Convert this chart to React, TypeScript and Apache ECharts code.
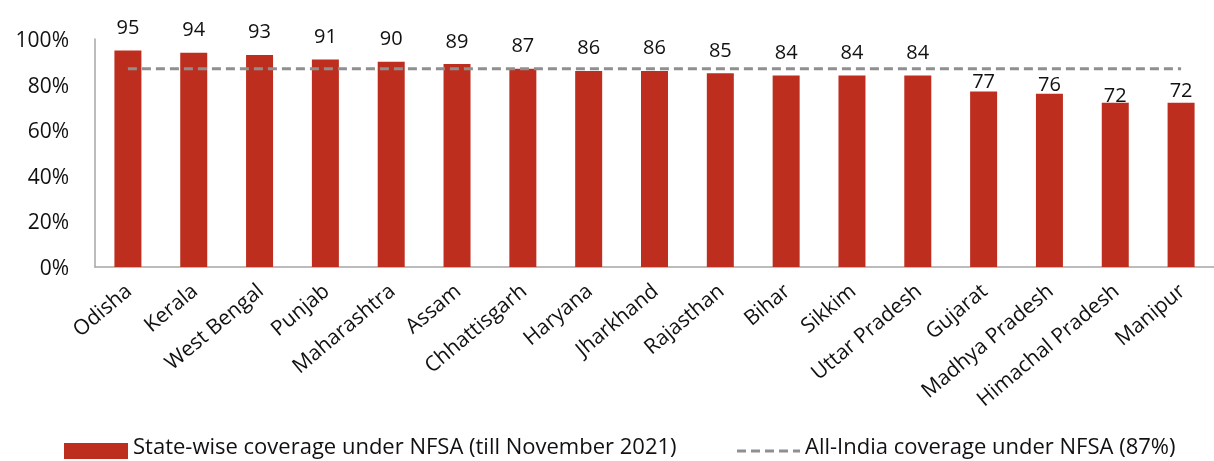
import React, { useEffect, useRef } from "react";
import * as echarts from "echarts";

const states = [
  "Odisha", "Kerala", "West Bengal", "Punjab", "Maharashtra", "Assam", "Chhattisgarh",
  "Haryana", "Jharkhand", "Rajasthan", "Bihar", "Sikkim", "Uttar Pradesh", "Gujarat",
  "Madhya Pradesh", "Himachal Pradesh", "Manipur",
];
const coverage = [95, 94, 93, 91, 90, 89, 87, 86, 86, 85, 84, 84, 84, 77, 76, 72, 72];
const allIndia = 87;
const yTicks = [0, 20, 40, 60, 80, 100];
// label lift above bar top (styling only)
const labelLift = [14, 14, 14, 14, 14, 14, 14, 14, 14, 14, 14, 14, 14, 1, 0, -2, 3];

const legendBar = "State-wise coverage under NFSA (till November 2021)";
const legendLine = `All-India coverage under NFSA (${allIndia}%)`;

const FONT = "'Open Sans', sans-serif";
const RED = "#BE2E1F";
const GREY = "#8f8f8f";

export default function App() {
  const ref = useRef<HTMLDivElement>(null);
  useEffect(() => {
    if (!ref.current) return;
    const chart = echarts.init(ref.current, null, { renderer: "svg" });
    chart.setOption({
      animation: false,
      textStyle: { fontFamily: FONT },
      grid: { left: 95, top: 39, bottom: 194, right: -12, containLabel: false },
      xAxis: {
        type: "category",
        data: states,
        axisTick: { show: false },
        axisLine: { lineStyle: { color: "#a6a6a6", width: 1.5 } },
        axisLabel: { rotate: 40, fontSize: 21, color: "#111", margin: 20, fontFamily: FONT, interval: 0 },
      },
      yAxis: {
        type: "value",
        min: yTicks[0],
        max: yTicks[yTicks.length - 1],
        interval: 20,
        axisLine: { show: true, lineStyle: { color: "#a6a6a6", width: 1.5 } },
        axisTick: { show: false },
        splitLine: { show: false },
        axisLabel: { formatter: "{value}%", fontSize: 21, color: "#111", margin: 26, fontFamily: FONT },
      },
      series: [
        {
          type: "bar",
          barWidth: 27,
          data: coverage.map((v, i) => ({
            value: v,
            label: { distance: labelLift[i] },
          })),
          itemStyle: { color: RED },
          label: { show: true, position: "top", fontSize: 20, color: "#111", fontFamily: FONT },
        },
        {
          type: "line",
          data: states.map(() => allIndia),
          symbol: "none",
          lineStyle: { color: GREY, width: 3, type: [9, 5] },
          z: 5,
        },
      ],
      graphic: [
        { type: "rect", shape: { x: 64, y: 443, width: 64, height: 16 }, style: { fill: RED } },
        {
          type: "text", x: 133, y: 445,
          style: { text: legendBar, fontSize: 22, fontFamily: FONT, fill: "#111", verticalAlign: "middle" },
        },
        {
          type: "line", shape: { x1: 737, y1: 451, x2: 800, y2: 451 },
          style: { stroke: GREY, lineWidth: 3, lineDash: [9, 5] },
        },
        {
          type: "text", x: 805, y: 445,
          style: { text: legendLine, fontSize: 22, fontFamily: FONT, fill: "#111", verticalAlign: "middle", letterSpacing: 1 },
        },
      ],
    });
    return () => chart.dispose();
  }, []);
  return (
    <div
      ref={ref}
      style={{ position: "fixed", left: 0, top: 0, width: 1214, height: 461 }}
    />
  );
}
